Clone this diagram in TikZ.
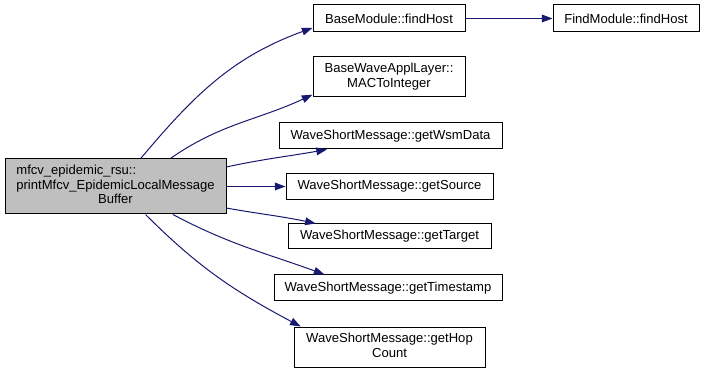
\documentclass[tikz,border=0pt]{standalone}
\usepackage{fontspec}
\setmainfont{Liberation Sans}
\usetikzlibrary{arrows.meta}
\definecolor{edgeblue}{HTML}{191970}
\definecolor{callerfill}{HTML}{BFBFBF}
\newdimen\pxu \pxu=0.75pt
\tikzset{
  fn/.style={draw=black, line width=0.75pt, fill=white, inner sep=0pt,
    font=\fontsize{9.8}{10.8}\selectfont, align=center},
  callee/.style={draw=edgeblue, line width=0.75pt,
    -{Triangle[length=8pt,width=5.8pt]}},
}
\begin{document}
\begin{tikzpicture}[x=0.75pt, y=-0.75pt]
\useasboundingbox (0,0) rectangle (705,373);

% caller
\node[fn, fill=callerfill, minimum width=221\pxu, minimum height=55\pxu] (main) at (115.5,186.5)
  {\begin{tabular}{@{}l@{}}mfcv\_epidemic\_rsu::\\printMfcv\_EpidemicLocalMessage\\\multicolumn{1}{@{}c@{}}{Buffer}\end{tabular}};

% callees
\node[fn, minimum width=152\pxu, minimum height=27\pxu] (bmfind) at (389,18.5) {BaseModule::findHost};
\node[fn, minimum width=146\pxu, minimum height=27\pxu] (fmfind) at (626,18.5) {FindModule::findHost};
\node[fn, minimum width=152\pxu, minimum height=40\pxu] (mac) at (389,77)
  {\begin{tabular}{@{}l@{}}BaseWaveApplLayer::\\\multicolumn{1}{@{}c@{}}{MACToInteger}\end{tabular}};
\node[fn, minimum width=223\pxu, minimum height=26\pxu] (wsm) at (390.5,136) {WaveShortMessage::getWsmData};
\node[fn, minimum width=207\pxu, minimum height=26\pxu] (src) at (389.5,186.5) {WaveShortMessage::getSource};
\node[fn, minimum width=203\pxu, minimum height=25\pxu] (tgt) at (389.5,236.5) {WaveShortMessage::getTarget};
\node[fn, minimum width=228\pxu, minimum height=26\pxu] (ts) at (388,288) {WaveShortMessage::getTimestamp};
\node[fn, minimum width=191\pxu, minimum height=40\pxu] (hop) at (389.5,347)
  {\begin{tabular}{@{}l@{}}WaveShortMessage::getHop\\\multicolumn{1}{@{}c@{}}{Count}\end{tabular}};

% calls
\draw[callee] (main.48) to[out=50, in=200] (bmfind.187);
\draw[callee] (bmfind.east) -- (fmfind.west);
\draw[callee] (main.27) to[out=35, in=205] (mac.193);
\draw[callee] (main.10.5) to[out=12, in=190] (wsm.192);
\draw[callee] (main.east) -- (src.west);
\draw[callee] (main.-11.5) to[out=-10, in=168] (tgt.170);
\draw[callee] (main.-26.8) to[out=-28, in=160] (ts.168);
\draw[callee] (main.-43) to[out=-45, in=152] (hop.167);
\end{tikzpicture}
\end{document}
